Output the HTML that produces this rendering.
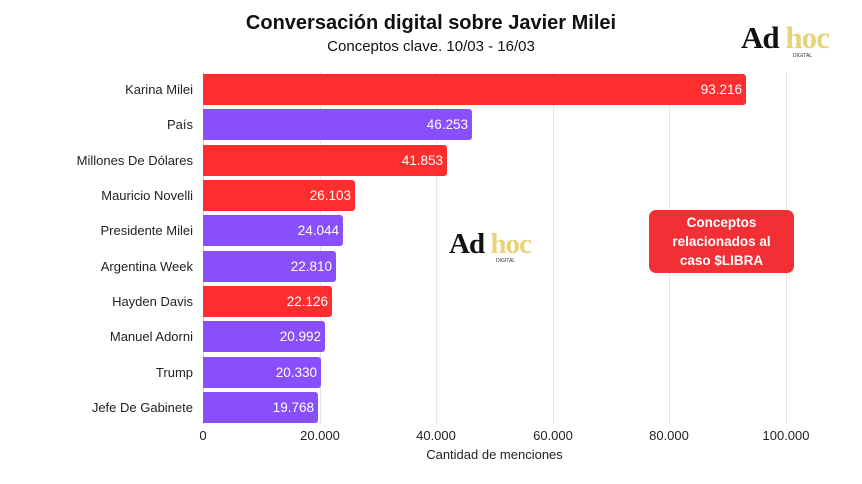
<!DOCTYPE html>
<html><head><meta charset="utf-8"><style>
body{margin:0;width:862px;height:484px;background:#fff;font-family:"Liberation Sans",sans-serif;position:relative;overflow:hidden}
.a{position:absolute}
.bar{position:absolute;left:203px;height:31px;border-radius:0 3px 3px 0;color:#fff;font-size:13.5px;line-height:31px;text-align:right;box-sizing:border-box;padding-right:4px}
.r{background:#ff2e2e}.p{background:#8a4ffd}
.lab{position:absolute;right:669px;font-size:13px;color:#222;line-height:31px;white-space:nowrap}
.g{position:absolute;top:72px;height:352px;width:1px;background:#e6e6e6}
.t{position:absolute;top:428px;font-size:13px;color:#222;width:80px;text-align:center}
</style></head><body>
<div class="a" style="left:0;width:862px;top:12px;text-align:center;font-weight:bold;font-size:20px;color:#111">Conversación digital sobre Javier Milei</div>
<div class="a" style="left:0;width:862px;top:38px;text-align:center;font-size:15px;color:#111">Conceptos clave. 10/03 - 16/03</div>
<div class="a" style="left:741px;top:20px;font-family:'Liberation Serif',serif;font-size:31px;font-weight:bold;letter-spacing:-1px"><span style="color:#111">Ad</span> <span style="color:#e8d37a">hoc</span></div>
<div class="a" style="left:793px;top:53px;font-size:5px;color:#333">DIGITAL</div>
<div class="g" style="left:203px;background:#ccc"></div>
<div class="g" style="left:320px"></div><div class="g" style="left:436px"></div><div class="g" style="left:553px"></div><div class="g" style="left:669px"></div><div class="g" style="left:786px"></div>
<div class="t" style="left:163px">0</div><div class="t" style="left:280px">20.000</div><div class="t" style="left:396px">40.000</div><div class="t" style="left:513px">60.000</div><div class="t" style="left:629px">80.000</div><div class="t" style="left:746px">100.000</div>
<div class="a" style="left:203px;width:583px;top:447px;text-align:center;font-size:13px;color:#222">Cantidad de menciones</div>
<div class="lab" style="top:74px">Karina Milei</div><div class="bar r" style="top:74px;width:543px">93.216</div>
<div class="lab" style="top:109px">País</div><div class="bar p" style="top:109px;width:269px">46.253</div>
<div class="lab" style="top:145px">Millones De Dólares</div><div class="bar r" style="top:145px;width:244px">41.853</div>
<div class="lab" style="top:180px">Mauricio Novelli</div><div class="bar r" style="top:180px;width:152px">26.103</div>
<div class="lab" style="top:215px">Presidente Milei</div><div class="bar p" style="top:215px;width:140px">24.044</div>
<div class="lab" style="top:251px">Argentina Week</div><div class="bar p" style="top:251px;width:133px">22.810</div>
<div class="lab" style="top:286px">Hayden Davis</div><div class="bar r" style="top:286px;width:129px">22.126</div>
<div class="lab" style="top:321px">Manuel Adorni</div><div class="bar p" style="top:321px;width:122px">20.992</div>
<div class="lab" style="top:357px">Trump</div><div class="bar p" style="top:357px;width:118px">20.330</div>
<div class="lab" style="top:392px">Jefe De Gabinete</div><div class="bar p" style="top:392px;width:115px">19.768</div>
<div class="a" style="left:449px;top:228px;font-family:'Liberation Serif',serif;font-size:29px;font-weight:bold;letter-spacing:-1px"><span style="color:#111">Ad</span> <span style="color:#e8d37a">hoc</span></div>
<div class="a" style="left:496px;top:258px;font-size:5px;color:#333">DIGITAL</div>
<div class="a" style="left:649px;top:210px;width:145px;height:63px;background:#f22f34;border-radius:7px;color:#fff;font-weight:bold;font-size:13.5px;text-align:center;line-height:19px;padding-top:3px;box-sizing:border-box">Conceptos<br>relacionados al<br>caso $LIBRA</div>
</body></html>
